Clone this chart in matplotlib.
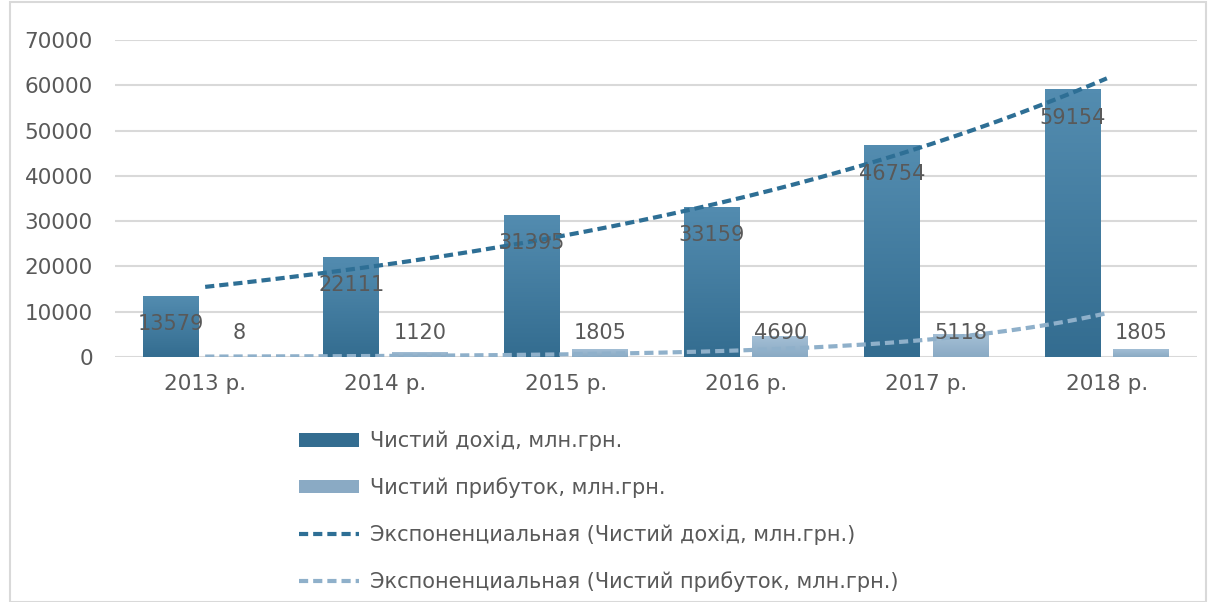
import numpy as np
import matplotlib
matplotlib.use("Agg")
from matplotlib import pyplot as plt
from matplotlib.patches import Rectangle, Patch
from matplotlib.lines import Line2D

years = ["2013 р.", "2014 р.", "2015 р.", "2016 р.", "2017 р.", "2018 р."]
revenue = [13579, 22111, 31395, 33159, 46754, 59154]
profit = [8, 1120, 1805, 4690, 5118, 1805]

lbl_rev = "Чистий дохід, млн.грн."
lbl_prof = "Чистий прибуток, млн.грн."
lbl_trend_rev = "Экспоненциальная (Чистий дохід, млн.грн.)"
lbl_trend_prof = "Экспоненциальная (Чистий прибуток, млн.грн.)"

dark_top, dark_bot = "#538cb0", "#346d90"
light_top, light_bot = "#a5c0d6", "#8aaac4"
text_col = "#595959"

plt.rcParams['font.family'] = ['DejaVu Sans']

fig = plt.figure(figsize=(12.16, 6.02), dpi=100)
ax = fig.add_axes([115/1216, 1-357/602, 1082/1216, 317/602])

x = np.arange(len(years))
w = 0.31
off = 0.19


def grad_bars(xs, vals, top, bot):
    bars = ax.bar(xs, vals, width=w, color="none", edgecolor="none", zorder=2)
    cmap = matplotlib.colors.LinearSegmentedColormap.from_list("g", [bot, top])
    for b in bars:
        x0, y0 = b.get_x(), b.get_y()
        h = b.get_height()
        if h <= 0:
            continue
        im = ax.imshow(np.linspace(0, 1, 64).reshape(-1, 1), cmap=cmap, origin="lower",
                       extent=[x0, x0 + w, y0, y0 + h], aspect="auto", zorder=2)
        im.set_clip_path(b)
    return bars


grad_bars(x - off, revenue, dark_top, dark_bot)
grad_bars(x + off, profit, light_top, light_bot)

# exponential trendlines (fit like Excel, x = 1..n)
xt = np.linspace(1, len(years), 200)
k1, b1 = np.polyfit(x + 1, np.log(revenue), 1)
k2, b2 = np.polyfit(x + 1, np.log(profit), 1)
ax.plot(xt - 1, np.exp(b1 + k1 * xt), color="#2e6f95", lw=3, ls=(0, (2.2, 1.2)), zorder=3)
ax.plot(xt - 1, np.exp(b2 + k2 * xt), color="#8fb0ca", lw=3, ls=(0, (2.2, 1.2)), zorder=3)

# data labels
for xi, v in zip(x, revenue):
    ax.text(xi - off, v - 6300, str(v), ha="center", va="center", fontsize=15, color=text_col, zorder=4)
for xi, v in zip(x, profit):
    ax.text(xi + off, 5400, str(v), ha="center", va="center", fontsize=15, color=text_col, zorder=4)

ax.set_xlim(-0.5, len(years) - 0.5)
ax.set_ylim(0, 70000)
ax.set_yticks(np.arange(0, 70001, 10000))
ax.set_xticks(x)
ax.set_xticklabels(years)
ax.tick_params(axis="both", length=0, labelsize=15.5, labelcolor=text_col)
ax.tick_params(axis="x", pad=12)
ax.tick_params(axis="y", pad=16)
ax.grid(axis="y", color="#d9d9d9", lw=1.5, zorder=0)
ax.set_axisbelow(True)
for s in ax.spines.values():
    s.set_visible(False)

handles = [
    Patch(facecolor=dark_bot, edgecolor="none"),
    Patch(facecolor=light_bot, edgecolor="none"),
    Line2D([], [], color="#2e6f95", lw=3, ls=(0, (2.2, 1.2))),
    Line2D([], [], color="#8fb0ca", lw=3, ls=(0, (2.2, 1.2))),
]
leg = fig.legend(handles, [lbl_rev, lbl_prof, lbl_trend_rev, lbl_trend_prof],
                 loc="upper left", bbox_to_anchor=(280/1216, 1-412/602), frameon=False,
                 fontsize=15, labelspacing=1.25, handlelength=2.9, handletextpad=0.5,
                 handleheight=0.6)
for t in leg.get_texts():
    t.set_color(text_col)

fig.patches.append(Rectangle((10/1216, 0), 1 - 20/1216, 1 - 2/602, transform=fig.transFigure,
                             fill=False, edgecolor="#d9d9d9", lw=1.5))

fig.savefig("out.png", dpi=100)
